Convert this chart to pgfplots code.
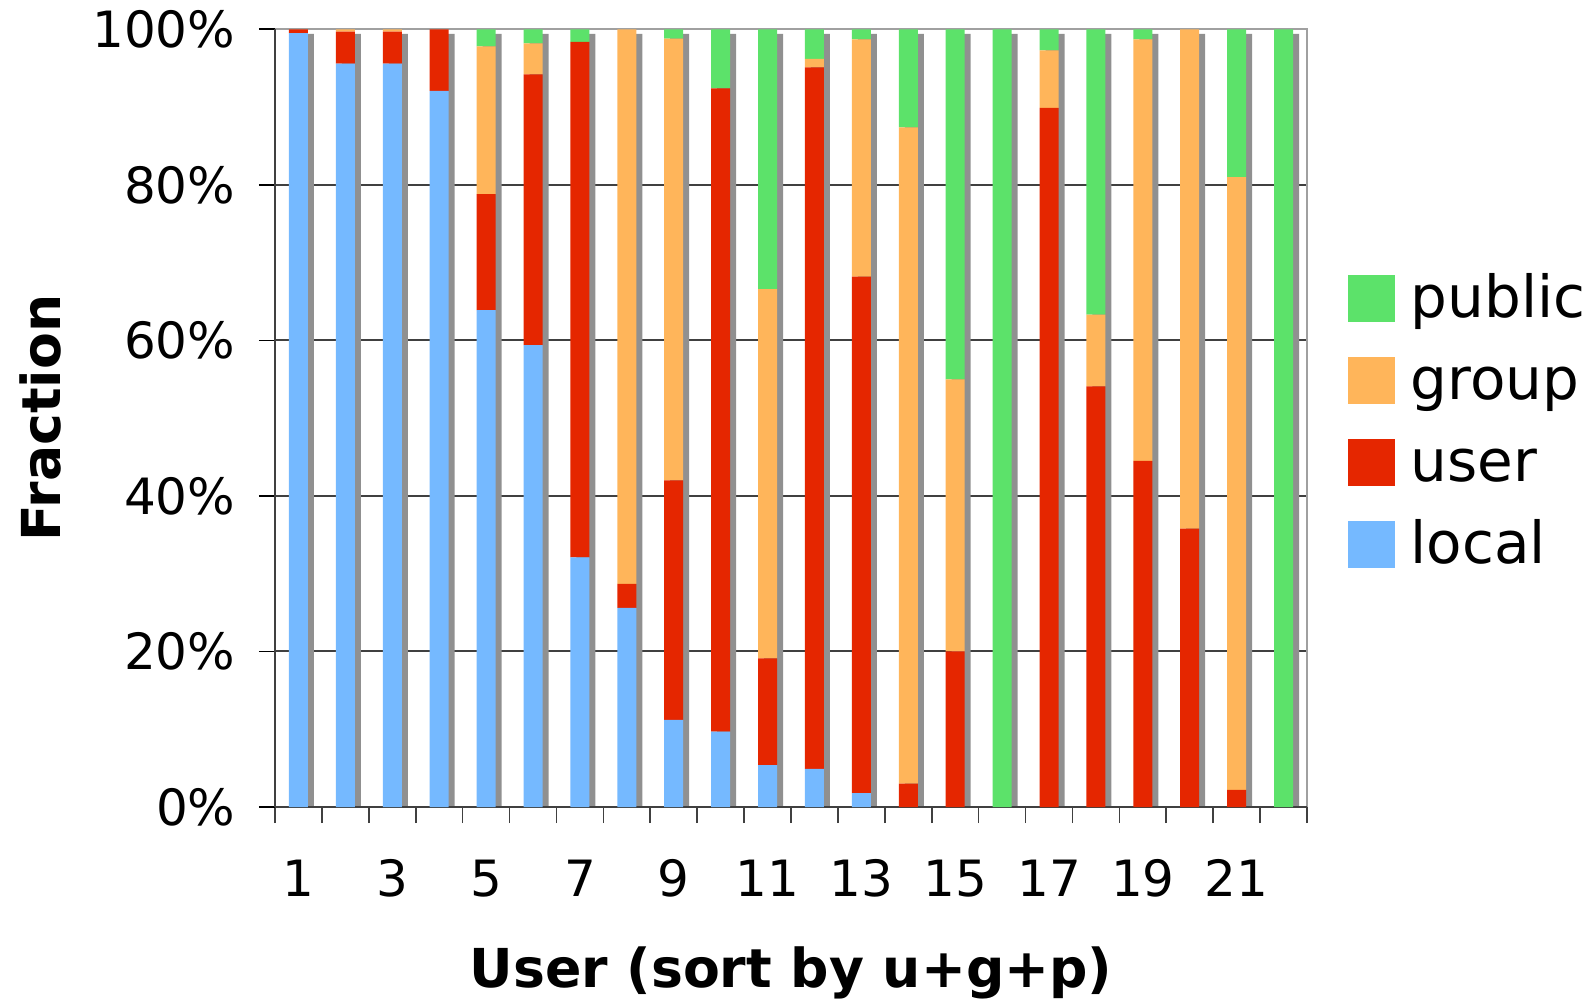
\documentclass[border=0pt]{standalone}
\usepackage{fontspec}
\setmainfont{DejaVu Sans}
\usepackage{pgfplots}
\usepackage{pgfplotstable}
\pgfplotsset{compat=1.18}
\definecolor{clocal}{HTML}{75B9FF}
\definecolor{cuser}{HTML}{E52600}
\definecolor{cgroup}{HTML}{FFB55A}
\definecolor{cpublic}{HTML}{5CE26A}
\definecolor{cshadow}{HTML}{909090}
\definecolor{cgrid}{HTML}{404040}
\definecolor{cframe}{HTML}{A0A0A0}

\pgfplotstableread{
x local user group public
1 99.5 0.5 0 0
2 95.6 4.1 0.3 0
3 95.6 4.1 0.3 0
4 92.1 7.9 0 0
5 63.9 14.9 19.0 2.2
6 59.4 34.8 4.0 1.8
7 32.1 66.3 0 1.6
8 25.6 3.1 71.3 0
9 11.2 30.8 56.8 1.2
10 9.7 82.7 0 7.6
11 5.4 13.7 47.5 33.4
12 4.9 90.2 1.1 3.8
13 1.8 66.4 30.5 1.3
14 0 3.0 84.4 12.6
15 0 20.0 35.0 45.0
16 0 0 0 100
17 0 89.9 7.4 2.7
18 0 54.1 9.2 36.7
19 0 44.5 54.2 1.3
20 0 35.8 64.2 0
21 0 2.2 78.8 19.0
22 0 0 0 100
}\datatable

\pgfplotstableread{
x s
1 99.4
2 99.4
3 99.4
4 99.4
5 99.4
6 99.4
7 99.4
8 99.4
9 99.4
10 99.4
11 99.4
12 99.4
13 99.4
14 99.4
15 99.4
16 99.4
17 99.4
18 99.4
19 99.4
20 99.4
21 99.4
22 99.4
}\shadowtable

\begin{document}
\begin{tikzpicture}
\path[use as bounding box] (-82.5pt,-57.9pt) rectangle (395.7pt,242.1pt);
% background axis: frame, grid, shadows
\begin{axis}[
  at={(0,0)}, anchor=south west,
  scale only axis, width=309.6pt, height=233.3pt,
  xmin=0.5, xmax=22.5, ymin=0, ymax=100,
  axis line style={draw=cframe, line width=0.7pt},
  xtick=\empty, ytick={20,40,60,80},
  yticklabels={},
  major tick length=0pt,
  ymajorgrids, major grid style={draw=cgrid, line width=0.6pt},
]
\addplot[ybar, bar width=5.7pt, bar shift=1.8pt, fill=cshadow, draw=none] table[x=x,y=s]{\shadowtable};
\end{axis}
% foreground axis: bars, ticks, labels, legend
\begin{axis}[
  at={(0,0)}, anchor=south west,
  scale only axis, width=309.6pt, height=233.3pt,
  xmin=0.5, xmax=22.5, ymin=0, ymax=100,
  ybar stacked, bar width=5.7pt,
  axis lines=left,
  axis line style={-, draw=cgrid, line width=0.8pt},
  ytick={0,20,40,60,80,100},
  yticklabels={0\%,20\%,40\%,60\%,80\%,100\%},
  xtick={1,3,...,21},
  xticklabels={1,3,5,7,9,11,13,15,17,19,21},
  minor xtick={0.5,1.5,...,22.5},
  tick align=outside,
  major tick length=4.8pt, minor tick length=4.8pt,
  major x tick style={draw=none},
  minor x tick style={draw=cgrid, line width=0.5pt},
  major y tick style={draw=black, line width=0.5pt},
  tick label style={font=\fontsize{15}{17}\selectfont},
  yticklabel style={anchor=east, inner sep=0pt, xshift=-6.9pt},
  xticklabel style={anchor=base, inner sep=0pt, yshift=-21.9pt},
  xlabel={User (sort by u+g+p)},
  xlabel style={at={(axis description cs:0.5,-0.2315)}, anchor=base, font=\bfseries\fontsize{16.1}{18}\selectfont},
  ylabel={Fraction},
  ylabel style={at={(axis description cs:-0.2074,0.5)}, anchor=base, font=\bfseries\fontsize{16.1}{18}\selectfont},
  reverse legend,
  legend image code/.code={\fill[#1] (0pt,-1.2pt) rectangle (14.1pt,12.9pt);},
  legend style={at={(axis description cs:1.0388,0.49)}, anchor=west, draw=none, fill=none,
    inner sep=0pt, row sep=7.6pt, column sep=4.8pt,
    font=\fontsize{17.4}{20}\selectfont,
    nodes={inner sep=0pt, text height=13pt, text depth=4pt, anchor=base west}},
  legend cell align=left,
]
\addplot[fill=clocal, draw=none] table[x=x,y=local]{\datatable};
\addplot[fill=cuser, draw=none] table[x=x,y=user]{\datatable};
\addplot[fill=cgroup, draw=none] table[x=x,y=group]{\datatable};
\addplot[fill=cpublic, draw=none] table[x=x,y=public]{\datatable};
\legend{local,user,group,public}
\end{axis}
\end{tikzpicture}
\end{document}
